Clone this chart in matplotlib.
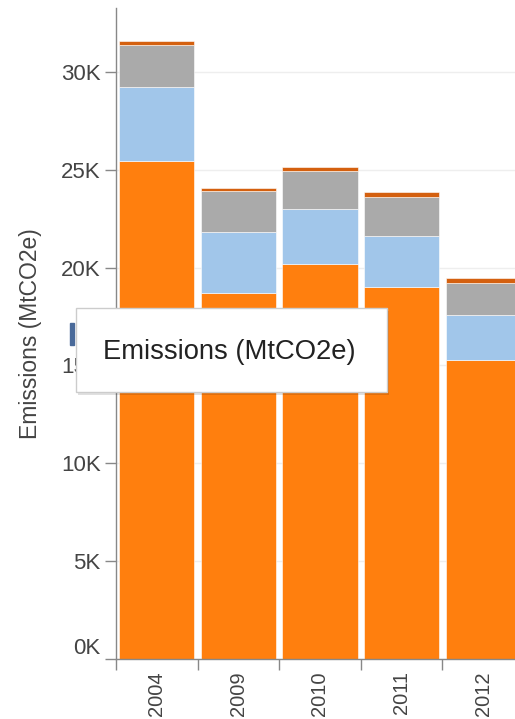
import matplotlib
matplotlib.use("Agg")
import matplotlib.pyplot as plt
from matplotlib.patches import Rectangle

years = ["2004", "2009", "2010", "2011", "2012"]
energy = [25460, 18690, 20190, 19030, 15260]
agriculture = [3770, 3150, 2820, 2570, 2290]
land_use = [2150, 2090, 1900, 2020, 1650]
waste = [200, 120, 240, 220, 270]
y_ticks = [0, 5000, 10000, 15000, 20000, 25000, 30000]
y_tick_labels = ["0K", "5K", "10K", "15K", "20K", "25K", "30K"]

colors = ["#ff7f0e", "#a1c6ea", "#aaaaaa", "#d4600f"]

plt.rcParams['font.family'] = ['Liberation Sans', 'DejaVu Sans']

fig = plt.figure(figsize=(5.15, 7.19), dpi=100)
ax = fig.add_axes([116 / 515, 60 / 719, 408 / 515, 651 / 719])

x = [i + 0.5 for i in range(len(years))]
bottom = [0] * len(years)
for series, color in zip([energy, agriculture, land_use, waste], colors):
    ax.bar(x, series, width=0.92, bottom=bottom, color=color,
           edgecolor="white", linewidth=0.4, zorder=2)
    bottom = [b + s for b, s in zip(bottom, series)]

ax.set_xlim(0, 5)
ax.set_ylim(0, 33260)

ax.set_yticks(y_ticks)
ax.set_yticklabels(y_tick_labels)
ax.yaxis.grid(True, color="#eeeeee", linewidth=1, zorder=0)
ax.set_axisbelow(True)
ax.tick_params(axis="y", length=8, width=1, color="#888888",
               labelsize=16, labelcolor="#444444", pad=3)
labels = ax.get_yticklabels()
labels[0].set_verticalalignment("bottom")

ax.set_xticks(range(len(years)))
ax.set_xticklabels([])
ax.set_xticks(x, minor=True)
ax.set_xticklabels(years, minor=True, rotation=90, va="top")
ax.tick_params(axis="x", which="major", length=8, width=1, color="#888888")
ax.tick_params(axis="x", which="minor", length=0, labelsize=14.5,
               labelcolor="#444444", pad=9)

for side in ["top", "right"]:
    ax.spines[side].set_visible(False)
for side in ["left", "bottom"]:
    ax.spines[side].set_color("#888888")
    ax.spines[side].set_linewidth(1)

ax.set_ylabel("Emissions (MtCO2e)", fontsize=16.5, color="#444444",
              labelpad=14)

# cursor mark peeking out behind the tooltip
fig.add_artist(Rectangle((70 / 515, (719 - 345) / 719), 4 / 515, 22 / 719,
                         transform=fig.transFigure, color="#4a6a9a", zorder=9))

# tooltip box
fig.add_artist(Rectangle((78 / 515, (719 - 395) / 719), 311 / 515, 84 / 719,
                         transform=fig.transFigure, facecolor="#000000",
                         alpha=0.12, edgecolor="none", zorder=9))
fig.add_artist(Rectangle((76 / 515, (719 - 392) / 719), 311 / 515, 84 / 719,
                         transform=fig.transFigure, facecolor="white",
                         edgecolor="#cccccc", linewidth=1, zorder=10))
fig.text(103 / 515, (719 - 352) / 719, "Emissions (MtCO2e)", fontsize=19.7,
         color="#222222", ha="left", va="center", zorder=11)

fig.savefig("out.png", dpi=100)
